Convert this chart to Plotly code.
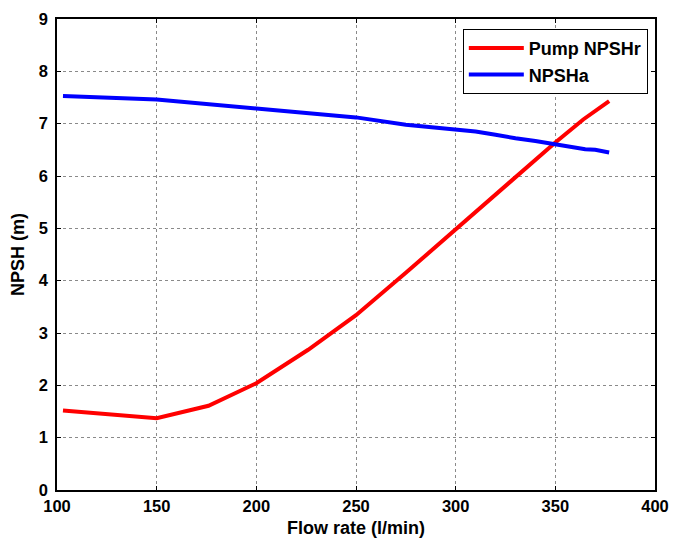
import plotly.graph_objects as go

flow_r = [103, 150, 176, 200, 226, 250, 275, 300, 325, 340, 350, 364, 377]
npshr = [1.52, 1.37, 1.61, 2.04, 2.68, 3.34, 4.15, 4.98, 5.83, 6.32, 6.64, 7.08, 7.43]

flow_a = [103, 150, 200, 250, 275, 300, 310, 320, 330, 340, 350, 365, 370, 377]
npsha = [7.53, 7.46, 7.29, 7.12, 6.98, 6.90, 6.85, 6.79, 6.72, 6.67, 6.60, 6.51, 6.50, 6.45]

xticks = [100, 150, 200, 250, 300, 350, 400]
yticks = [0, 1, 2, 3, 4, 5, 6, 7, 8, 9]

FONT = "Liberation Sans, Arial, sans-serif"

fig = go.Figure()
fig.add_trace(go.Scatter(x=flow_r, y=npshr, mode="lines", name="Pump NPSHr",
                         line=dict(color="#ff0000", width=4)))
fig.add_trace(go.Scatter(x=flow_a, y=npsha, mode="lines", name="NPSHa",
                         line=dict(color="#0000ff", width=4)))

axis_common = dict(
    showline=True, linecolor="black", linewidth=1.5, mirror="allticks",
    ticks="inside", ticklen=4, tickcolor="black",
    showgrid=True, gridcolor="#8a8a8a", griddash="dot", gridwidth=1,
    zeroline=False, automargin=False,
    tickfont=dict(family=FONT, size=16.5, color="black", weight="bold"),
)

fig.update_xaxes(range=[100, 400], tickvals=xticks,
                 title=dict(text="Flow rate (l/min)", standoff=8,
                            font=dict(family=FONT, size=18, color="black", weight="bold")),
                 **axis_common)
fig.update_yaxes(range=[0, 9], tickvals=yticks, ticklabelstandoff=4,
                 title=dict(text="NPSH (m)", standoff=10,
                            font=dict(family=FONT, size=18, color="black", weight="bold")),
                 **axis_common)

fig.update_layout(
    width=686, height=538,
    margin=dict(l=49, r=39, t=11, b=56),
    paper_bgcolor="white", plot_bgcolor="white",
    showlegend=True,
    legend=dict(x=0.988, y=0.979, xanchor="right", yanchor="top",
                bordercolor="black", borderwidth=1, bgcolor="white",
                font=dict(family=FONT, size=18, color="black", weight="bold"),
                tracegroupgap=0, itemwidth=55),
)

fig.write_html("out.html")
